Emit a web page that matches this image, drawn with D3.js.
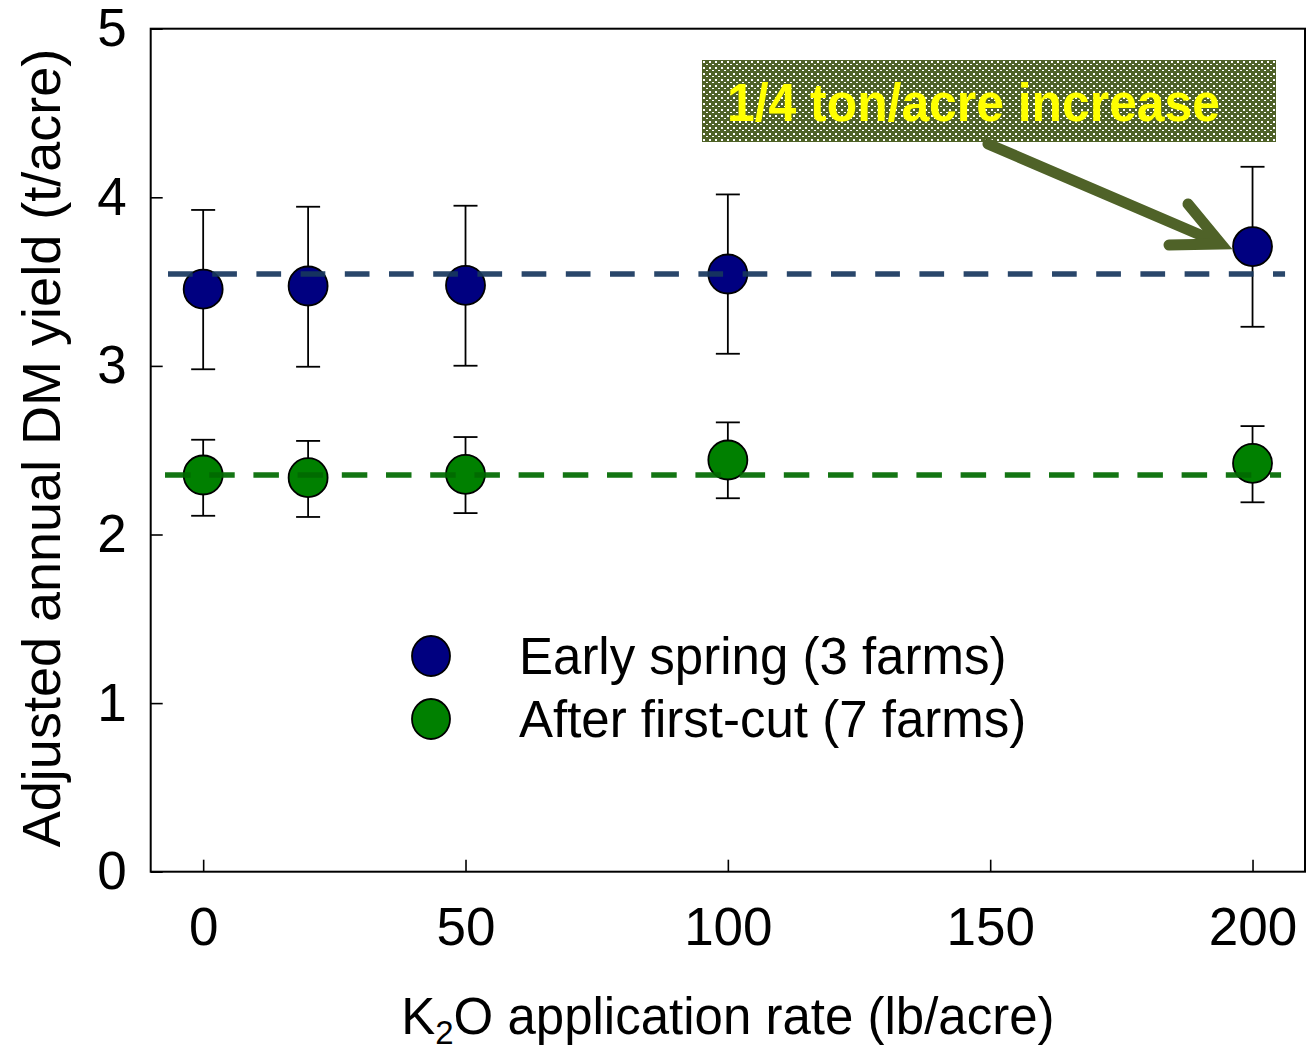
<!DOCTYPE html>
<html>
<head>
<meta charset="utf-8">
<script src="https://cdn.jsdelivr.net/npm/d3@7"></script>
<style>
  html, body { margin: 0; padding: 0; background: #fff; }
  svg { display: block; }
  text { font-family: "Liberation Sans", Arial, sans-serif; }
</style>
</head>
<body>
<svg id="chart" width="1311" height="1051"></svg>
<script>
// ---------------- data ----------------
const rates = [0, 20, 50, 100, 200];
const earlySpring = [3.455, 3.474, 3.478, 3.545, 3.708];
const earlySpringUpper = [3.925, 3.944, 3.950, 4.017, 4.181];
const earlySpringLower = [2.980, 2.995, 3.001, 3.072, 3.232];
const afterFirstCut = [2.353, 2.337, 2.357, 2.442, 2.422];
const afterFirstCutUpper = [2.562, 2.555, 2.578, 2.665, 2.643];
const afterFirstCutLower = [2.111, 2.104, 2.127, 2.215, 2.191];
const earlySpringMean = 3.545;
const afterFirstCutMean = 2.353;
const meanLineExtent = [-6.7, 206.2];
const xTicks = [0, 50, 100, 150, 200];
const yTicks = [0, 1, 2, 3, 4, 5];
const seriesNames = ["Early spring (3 farms)", "After first-cut (7 farms)"];
const seriesColors = ["#000080", "#008000"];
const meanColors = ["#17375E", "#006A00"];
const annotationText = "1/4 ton/acre increase";
const xTitleMain = "K", xTitleSub = "2", xTitleRest = "O application rate (lb/acre)";
const yTitle = "Adjusted annual DM yield (t/acre)";

// ---------------- layout ----------------
const svg = d3.select("#chart");
const L = 150.7, R = 1305, T = 28.7, B = 871.7;
const x = d3.scaleLinear().domain([-10, 210]).range([L, R]);
const y = d3.scaleLinear().domain([0, 5]).range([B, T]);

// pattern for annotation box
const defs = svg.append("defs");
const pat = defs.append("pattern").attr("id", "dots")
  .attr("patternUnits", "userSpaceOnUse").attr("x", 702).attr("y", 60)
  .attr("width", 6).attr("height", 6);
pat.append("rect").attr("width", 6).attr("height", 6).attr("fill", "#4F6228");
pat.append("rect").attr("x", 1).attr("y", 1).attr("width", 2).attr("height", 2).attr("fill", "#ffffff");
pat.append("rect").attr("x", 4).attr("y", 4).attr("width", 2).attr("height", 1).attr("fill", "#ffffff");

// axes
const xAxis = d3.axisBottom(x).tickValues(xTicks).tickFormat(d3.format("d"))
  .tickSizeInner(-12).tickSizeOuter(0).tickPadding(36);
const yAxis = d3.axisLeft(y).tickValues(yTicks).tickFormat(d3.format("d"))
  .tickSizeInner(-12).tickSizeOuter(0).tickPadding(24);

const gx = svg.append("g").attr("transform", `translate(0,${B})`).call(xAxis);
const gy = svg.append("g").attr("transform", `translate(${L},0)`).call(yAxis);
[gx, gy].forEach(g => {
  g.select(".domain").remove();
  g.selectAll(".tick line").attr("stroke", "#000").attr("stroke-width", 1.6);
  g.selectAll(".tick text").attr("fill", "#000").style("font-size", "53px")
    .style("font-family", "'Liberation Sans', Arial, sans-serif");
});

// frame
svg.append("rect").attr("x", L).attr("y", T).attr("width", R - L).attr("height", B - T)
  .attr("fill", "none").attr("stroke", "#000").attr("stroke-width", 2);

// series
const series = [
  { vals: earlySpring, up: earlySpringUpper, lo: earlySpringLower, mean: earlySpringMean },
  { vals: afterFirstCut, up: afterFirstCutUpper, lo: afterFirstCutLower, mean: afterFirstCutMean }
];
const capW = 12;
series.forEach((s, si) => {
  const g = svg.append("g");
  rates.forEach((r, i) => {
    const cx = x(r);
    g.append("line").attr("x1", cx).attr("x2", cx).attr("y1", y(s.up[i])).attr("y2", y(s.lo[i]))
      .attr("stroke", "#000").attr("stroke-width", 1.8);
    g.append("line").attr("x1", cx - capW).attr("x2", cx + capW).attr("y1", y(s.up[i])).attr("y2", y(s.up[i]))
      .attr("stroke", "#000").attr("stroke-width", 1.8);
    g.append("line").attr("x1", cx - capW).attr("x2", cx + capW).attr("y1", y(s.lo[i])).attr("y2", y(s.lo[i]))
      .attr("stroke", "#000").attr("stroke-width", 1.8);
  });
  g.selectAll("circle").data(rates).enter().append("circle")
    .attr("cx", d => x(d)).attr("cy", (d, i) => y(s.vals[i])).attr("r", 19.5)
    .attr("fill", seriesColors[si]).attr("stroke", "#000").attr("stroke-width", 1.8);
});
// mean dashed lines on top
series.forEach((s, si) => {
  svg.append("line")
    .attr("x1", x(meanLineExtent[0]) - (si === 1 ? 3 : 0)).attr("x2", x(meanLineExtent[1]) - (si === 1 ? 4 : 0))
    .attr("y1", y(s.mean)).attr("y2", y(s.mean))
    .attr("stroke", meanColors[si]).attr("stroke-width", 5.5)
    .attr("stroke-dasharray", si === 0 ? "24.7,19.5" : "25.5,18.7")
    .attr("opacity", 0.92);
});

// legend
const legY = [656, 719];
seriesNames.forEach((name, i) => {
  svg.append("ellipse").attr("cx", 431).attr("cy", legY[i]).attr("rx", 19).attr("ry", 20)
    .attr("fill", seriesColors[i]).attr("stroke", "#000").attr("stroke-width", 1.8);
  svg.append("text").attr("x", 519).attr("y", legY[i] + 18).text(name)
    .style("font-size", "51px").attr("fill", "#000");
});

// annotation box
svg.append("rect").attr("x", 702).attr("y", 60).attr("width", 574).attr("height", 82)
  .attr("fill", "url(#dots)");
svg.append("text").attr("x", 727).attr("y", 121).text(annotationText)
  .style("font-size", "53px").style("font-weight", "bold").attr("fill", "#FFFF00")
  .attr("textLength", 493).attr("lengthAdjust", "spacingAndGlyphs");

// arrow
const arrowColor = "#4F6228";
svg.append("line").attr("x1", 988).attr("y1", 144).attr("x2", 1212).attr("y2", 240)
  .attr("stroke", arrowColor).attr("stroke-width", 11).attr("stroke-linecap", "round");
svg.append("path").attr("d", "M1188,204 L1221,244 L1169,245")
  .attr("fill", "none").attr("stroke", arrowColor).attr("stroke-width", 11)
  .attr("stroke-linecap", "round").attr("stroke-linejoin", "miter");

// axis titles
const xt = svg.append("text").attr("x", (L + R) / 2).attr("y", 1034).attr("text-anchor", "middle")
  .style("font-size", "51px").attr("fill", "#000");
xt.append("tspan").text(xTitleMain);
xt.append("tspan").text(xTitleSub).attr("dy", 10).style("font-size", "33px");
xt.append("tspan").text(xTitleRest).attr("dy", -10);

svg.append("text").attr("transform", "translate(60,448) rotate(-90)").attr("text-anchor", "middle")
  .style("font-size", "54px").attr("fill", "#000").text(yTitle);
</script>
</body>
</html>
